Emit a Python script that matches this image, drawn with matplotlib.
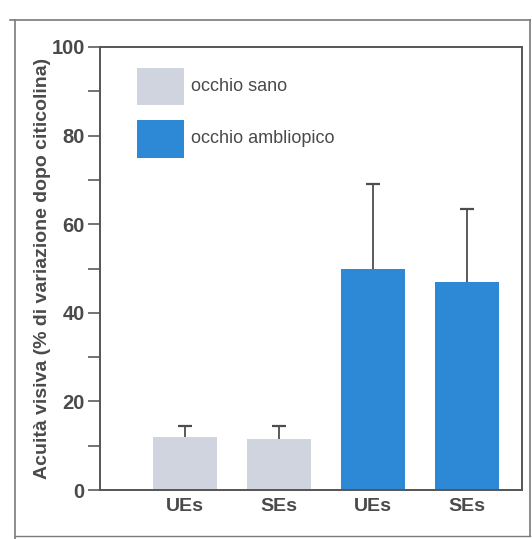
import matplotlib
matplotlib.use("Agg")
import matplotlib.pyplot as plt
from matplotlib.patches import Rectangle
from matplotlib.lines import Line2D
from matplotlib.ticker import MultipleLocator

categories = ["UEs", "SEs", "UEs", "SEs"]
groups = ["occhio sano", "occhio sano", "occhio ambliopico", "occhio ambliopico"]
values = [12, 11.5, 50, 47]
errors_up = [2.5, 3, 19, 16.5]
legend_labels = ["occhio sano", "occhio ambliopico"]
yticks = [0, 20, 40, 60, 80, 100]

colors = {"occhio sano": "#cfd4df", "occhio ambliopico": "#2d88d6"}
txt = "#4a4a4a"
fam = ["Liberation Sans Narrow", "Liberation Sans", "DejaVu Sans"]
plt.rcParams["font.family"] = fam

W, H = 532, 539
fig = plt.figure(figsize=(W / 100, H / 100), dpi=100)
fig.patch.set_facecolor("white")

# outer frame
frame_col = "#7a7a7a"
fig.add_artist(Line2D([10 / W, 530 / W], [1 - 20 / H, 1 - 20 / H], color=frame_col, lw=1.2))
fig.add_artist(Line2D([15 / W, 15 / W], [1 - 20 / H, 0], color=frame_col, lw=1.2))
fig.add_artist(Line2D([530 / W, 530 / W], [1 - 20 / H, 1 - 536 / H], color=frame_col, lw=1.2))
fig.add_artist(Line2D([15 / W, 530 / W], [1 - 536 / H, 1 - 536 / H], color=frame_col, lw=1.0))

ax = fig.add_axes([100 / W, 1 - 490 / H, (522 - 100) / W, (490 - 47) / H])
x = list(range(len(values)))
bar_colors = [colors[g] for g in groups]
ax.bar(x, values, width=0.68, color=bar_colors, edgecolor="none", zorder=2)
tops = [v + e for v, e in zip(values, errors_up)]
ax.vlines(x, values, tops, color="#4d4d4d", lw=1.3, zorder=1)
ax.hlines(tops, [i - 0.075 for i in x], [i + 0.075 for i in x],
          color="#4d4d4d", lw=1.6, zorder=1)

ax.set_xlim(-0.9, 3.58)
ax.set_ylim(0, 100)
ax.set_yticks(yticks)
ax.yaxis.set_minor_locator(MultipleLocator(10))
ax.tick_params(axis="y", which="both", direction="out", length=9, width=1.1,
               color="#4d4d4d", labelsize=14.5, labelcolor=txt, pad=2)
for lab in ax.get_yticklabels():
    lab.set_fontweight("bold")
ax.set_xticks(x)
ax.set_xticklabels(categories, fontsize=14, fontweight="bold", color=txt)
ax.tick_params(axis="x", length=0, pad=6)
for s in ax.spines.values():
    s.set_color("#555555")
    s.set_linewidth(1.4)

ax.set_ylabel("Acuità visiva (% di variazione dopo citicolina)", fontsize=14,
              fontweight="bold", color=txt, labelpad=0)

# legend
for lab, (y0, y1) in zip(legend_labels, [(68, 105), (120, 158)]):
    fig.add_artist(Rectangle((137 / W, 1 - y1 / H), 47 / W, (y1 - y0) / H,
                             facecolor=colors[lab], edgecolor="none"))
    fig.text(191 / W, 1 - (y0 + y1) / 2 / H, lab, fontsize=13, color=txt,
             va="center", ha="left")

fig.savefig("out.png", dpi=100, facecolor="white")
